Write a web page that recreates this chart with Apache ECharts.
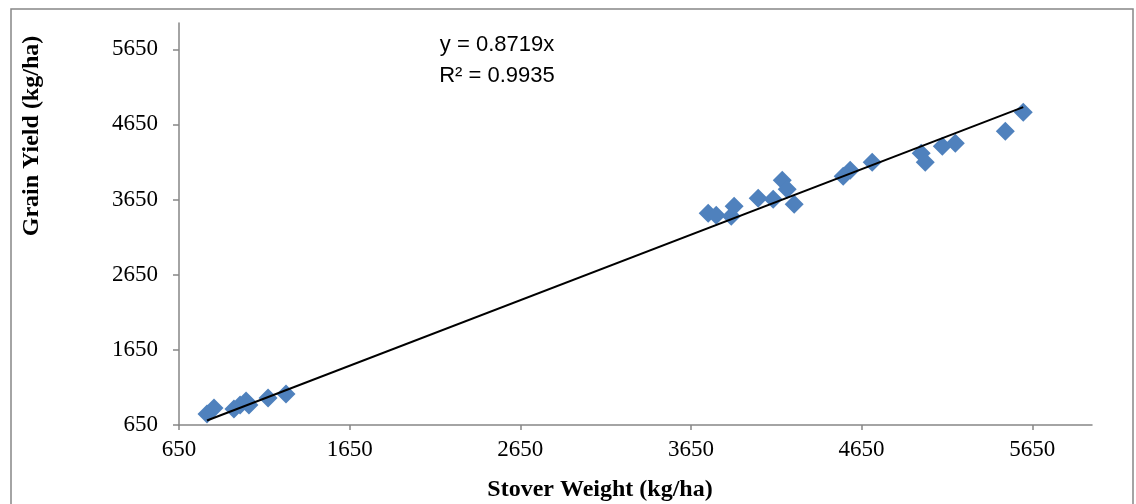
<!DOCTYPE html>
<html>
<head>
<meta charset="utf-8">
<script src="https://cdn.jsdelivr.net/npm/echarts@6/dist/echarts.min.js"></script>
<style>
  html, body { margin: 0; padding: 0; background: #fff; }
  #chart { width: 1136px; height: 504px; }
</style>
</head>
<body>
<div id="chart"></div>
<script>
// stover weight (x) and grain yield (y), kg/ha
var stover = [814, 855, 972, 1008, 1043, 1060, 1172, 1277,
              3751, 3798, 3886, 3903, 4044, 4132, 4185, 4214, 4255,
              4542, 4583, 4712, 4999, 5023, 5123, 5199, 5492, 5597];
var grain = [796, 876, 863, 916, 969, 916, 1009, 1062,
             3469, 3443, 3429, 3562, 3669, 3655, 3908, 3788, 3589,
             3961, 4041, 4147, 4267, 4147, 4360, 4400, 4560, 4812];
var slope = 0.8719;
var r2 = 0.9935;

var points = [];
for (var i = 0; i < stover.length; i++) {
  points.push([stover[i], grain[i]]);
}
var xMin = Math.min.apply(null, stover);
var xMax = Math.max.apply(null, stover);
var trend = [[xMin, slope * xMin], [xMax, slope * xMax]];

var myChart = echarts.init(document.getElementById('chart'));
var serif = '"Liberation Serif", "Times New Roman", serif';
var plain = function (v) { return String(v); };

var option = {
  animation: false,
  grid: { left: 179, right: 44, top: 23, bottom: 79 },
  xAxis: {
    type: 'value',
    min: 650, max: 6000, interval: 1000,
    splitLine: { show: false },
    axisLine: { lineStyle: { color: '#868686', width: 1.5 } },
    axisTick: { length: 5, lineStyle: { color: '#868686', width: 1.5 } },
    axisLabel: { showMaxLabel: false, formatter: plain, color: '#000', fontFamily: serif, fontSize: 23, margin: 13 }
  },
  yAxis: {
    type: 'value',
    min: 650, max: 6000, interval: 1000,
    splitLine: { show: false },
    axisLine: { show: true, lineStyle: { color: '#868686', width: 1.5 } },
    axisTick: { show: true, length: 6, lineStyle: { color: '#868686', width: 1.5 } },
    axisLabel: { showMaxLabel: false, formatter: plain, color: '#000', fontFamily: serif, fontSize: 23, margin: 21 }
  },
  graphic: [
    { type: 'rect', shape: { x: 11, y: 9, width: 1122, height: 520 },
      style: { fill: 'none', stroke: '#868686', lineWidth: 1.5 }, z: -1 },
    { type: 'text', x: 32, y: 136, rotation: Math.PI / 2,
      style: { text: 'Grain Yield (kg/ha)', font: 'bold 24px ' + serif, fill: '#000',
               textAlign: 'center', textVerticalAlign: 'middle' } },
    { type: 'text', x: 600, y: 490,
      style: { text: 'Stover Weight (kg/ha)', font: 'bold 24px ' + serif, fill: '#000',
               textAlign: 'center', textVerticalAlign: 'middle' } },
    { type: 'text', x: 497, y: 45,
      style: { text: 'y = ' + slope + 'x', font: '22px "Liberation Sans", Arial, sans-serif', fill: '#000',
               textAlign: 'center', textVerticalAlign: 'middle' } },
    { type: 'text', x: 497, y: 76,
      style: { text: 'R² = ' + r2, font: '22px "Liberation Sans", Arial, sans-serif', fill: '#000',
               textAlign: 'center', textVerticalAlign: 'middle' } }
  ],
  series: [
    {
      type: 'scatter',
      data: points,
      symbol: 'diamond',
      symbolSize: 19,
      itemStyle: { color: '#4F81BD', opacity: 1 },
      z: 2
    },
    {
      type: 'line',
      data: trend,
      symbol: 'none',
      lineStyle: { color: '#000', width: 2 },
      z: 3
    }
  ]
};
option && myChart.setOption(option);
</script>
</body>
</html>
